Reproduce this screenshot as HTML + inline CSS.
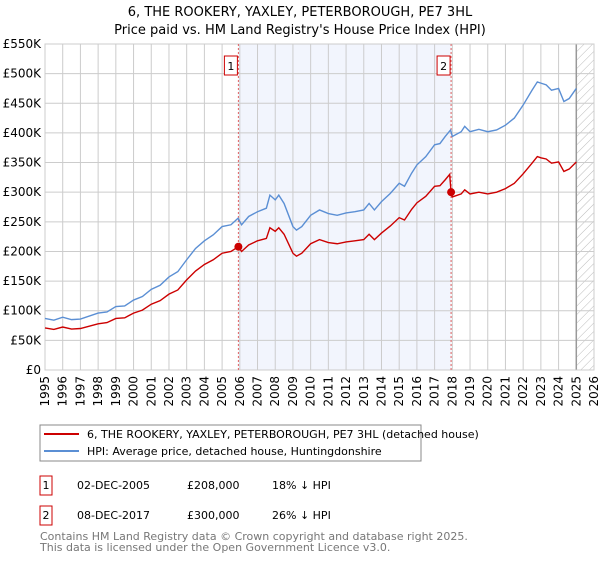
<!DOCTYPE html>
<html><head><meta charset="utf-8"><style>
body{margin:0;background:#fff;font-family:"Liberation Sans","DejaVu Sans",sans-serif}
</style></head><body>
<svg id="c" width="600" height="560" xmlns="http://www.w3.org/2000/svg" font-family="DejaVu Sans, Liberation Sans, sans-serif">
<defs><pattern id="h" width="6" height="6" patternUnits="userSpaceOnUse" patternTransform="rotate(45)"><line x1="0" y1="0" x2="0" y2="6" stroke="#bbb" stroke-width="1"/></pattern></defs>
<text x="300" y="16" text-anchor="middle" font-size="13">6, THE ROOKERY, YAXLEY, PETERBOROUGH, PE7 3HL</text>
<text x="300" y="34" text-anchor="middle" font-size="13">Price paid vs. HM Land Registry's House Price Index (HPI)</text>
<g id="plot"></g>
<g>
<rect x="40" y="425" width="381" height="36" fill="#fff" stroke="#888"/>
<line x1="44" y1="434" x2="79" y2="434" stroke="#cc0000" stroke-width="2"/>
<text x="87" y="438" font-size="11">6, THE ROOKERY, YAXLEY, PETERBOROUGH, PE7 3HL (detached house)</text>
<line x1="44" y1="451" x2="79" y2="451" stroke="#5b8fd4" stroke-width="2"/>
<text x="87" y="455" font-size="11">HPI: Average price, detached house, Huntingdonshire</text>
</g>
<g font-size="11">
<rect x="40" y="476" width="12" height="19" fill="#fff" stroke="#cc0000"/><text x="46" y="489" text-anchor="middle">1</text>
<text x="77" y="489">02-DEC-2005</text><text x="187" y="489">£208,000</text><text x="272" y="489">18% ↓ HPI</text>
<rect x="40" y="506" width="12" height="19" fill="#fff" stroke="#cc0000"/><text x="46" y="519" text-anchor="middle">2</text>
<text x="77" y="519">08-DEC-2017</text><text x="187" y="519">£300,000</text><text x="272" y="519">26% ↓ HPI</text>
</g>
<text x="40" y="540" font-size="11" fill="#777">Contains HM Land Registry data © Crown copyright and database right 2025.</text>
<text x="40" y="551" font-size="11" fill="#777">This data is licensed under the Open Government Licence v3.0.</text>
</svg>
<script>
const years=[1995,1995.5,1996,1996.5,1997,1998,1998.5,1999,1999.5,2000,2000.5,2001,2001.5,2002,2002.5,2003,2003.5,2004,2004.5,2005,2005.5,2005.9,2006.1,2006.5,2007,2007.5,2007.7,2008,2008.2,2008.5,2009,2009.2,2009.5,2010,2010.5,2011,2011.5,2012,2012.5,2013,2013.3,2013.6,2014,2014.5,2015,2015.3,2015.7,2016,2016.5,2017,2017.3,2017.6,2017.9,2018,2018.5,2018.7,2019,2019.5,2020,2020.5,2021,2021.5,2022,2022.5,2022.8,2023,2023.3,2023.6,2024,2024.3,2024.6,2025];
const hpi=[87,84,89,85,86,96,98,107,108,118,124,136,143,157,166,186,205,218,228,242,245,256,245,259,267,273,295,287,295,281,242,236,242,261,270,264,261,265,267,270,281,270,284,298,315,310,332,346,360,380,382,394,405,394,402,411,402,406,402,405,413,425,447,472,486,484,481,472,475,453,458,475];
const redYears=[1995,1995.5,1996,1996.5,1997,1998,1998.5,1999,1999.5,2000,2000.5,2001,2001.5,2002,2002.5,2003,2003.5,2004,2004.5,2005,2005.5,2005.92,2006.1,2006.5,2007,2007.5,2007.7,2008,2008.2,2008.5,2009,2009.2,2009.5,2010,2010.5,2011,2011.5,2012,2012.5,2013,2013.3,2013.6,2014,2014.5,2015,2015.3,2015.7,2016,2016.5,2017,2017.3,2017.6,2017.85,2017.93,2018,2018.5,2018.7,2019,2019.5,2020,2020.5,2021,2021.5,2022,2022.5,2022.8,2023,2023.3,2023.6,2024,2024.3,2024.6,2025];
const red=[71,68.5,72.5,69,70,78,80,87,88,96,101,111,117,128,135,152,167,178,186,197,200,208,200,211,218,222,240,234,240,229,197,192,197,213,220,215,213,216,218,220,229,220,231,243,257,253,271,282,293,310,311,321,330,300,292,297,304,297,300,297,300,306,315,331,349,360,358,356,349,351,335,339,351];
const sales=[{n:"1",y:2005.92,v:208},{n:"2",y:2017.93,v:300}];
const yTicks=[0,50,100,150,200,250,300,350,400,450,500,550];
const yTickLabels=["£0","£50K","£100K","£150K","£200K","£250K","£300K","£350K","£400K","£450K","£500K","£550K"];
const xTicks=[1995,1996,1997,1998,1999,2000,2001,2002,2003,2004,2005,2006,2007,2008,2009,2010,2011,2012,2013,2014,2015,2016,2017,2018,2019,2020,2021,2022,2023,2024,2025,2026];
const dataEnd=2025.0;
const L=45,R=594,T=44,B=370,NS="http://www.w3.org/2000/svg";
const X=y=>L+(y-1995)/(2026-1995)*(R-L);
const Y=v=>B-v/550*(B-T);
const g=document.getElementById('plot');
function mk(t,a,p){const e=document.createElementNS(NS,t);for(const k in a)e.setAttribute(k,a[k]);(p||g).appendChild(e);return e;}
let e;
e=mk('rect',{x:X(sales[0].y),y:T,width:X(sales[1].y)-X(sales[0].y),height:B-T,fill:'#f2f5fd'});


e=mk('rect',{x:X(dataEnd),y:T,width:R-X(dataEnd),height:B-T,fill:'url(#h)'});


yTicks.forEach((v,i)=>{
 e=mk('line',{x1:L,x2:R,y1:Y(v),y2:Y(v),stroke:'#ccc'});
 
 
 e=mk('text',{x:L-4,y:Y(v)+4,'text-anchor':'end','font-size':'12'});e.textContent=yTickLabels[i];
 
 
});
xTicks.forEach(y=>{
 e=mk('line',{x1:X(y),x2:X(y),y1:T,y2:B,stroke:'#ccc'});
 
 
 e=mk('text',{x:0,y:0,'text-anchor':'end','font-size':'12',transform:`translate(${X(y)+4},${B+6}) rotate(-90)`});e.textContent=y;
 
 
});
e=mk('line',{x1:X(dataEnd),x2:X(dataEnd),y1:T,y2:B,stroke:'#999','stroke-width':1.5});


e=mk('rect',{x:L,y:T,width:R-L,height:B-T,fill:'none',stroke:'#ccc'});


sales.forEach(s=>{
 e=mk('line',{x1:X(s.y),x2:X(s.y),y1:T,y2:B,stroke:'#e06060','stroke-dasharray':'2,2'});
 
 
});
e=mk('polyline',{points:years.map((y,i)=>X(y)+','+Y(hpi[i])).join(' '),fill:'none',stroke:'#5b8fd4','stroke-width':1.4});


e=mk('polyline',{points:redYears.map((y,i)=>X(y)+','+Y(red[i])).join(' '),fill:'none',stroke:'#cc0000','stroke-width':1.4});


sales.forEach(s=>{
 e=mk('circle',{cx:X(s.y),cy:Y(s.v),r:4,fill:'#cc0000'});
 
 
 e=mk('rect',{x:X(s.y)-14,y:T+12,width:13,height:19,fill:'#fff',stroke:'#cc0000'});
 
 
 e=mk('text',{x:X(s.y)-7.5,y:T+26,'text-anchor':'middle','font-size':'11'});e.textContent=s.n;
 
 
});
</script>
</body></html>
